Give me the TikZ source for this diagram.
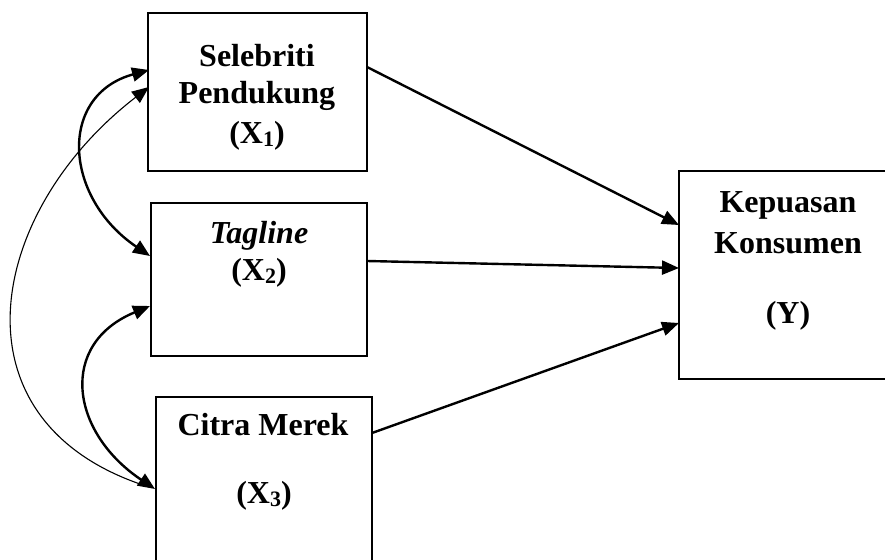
\documentclass[tikz,border=0pt]{standalone}
\usepackage{fontspec}
\setmainfont{Liberation Serif}
\usetikzlibrary{arrows.meta}
\newcommand{\sbx}[1]{\raisebox{-3pt}{\fontsize{22}{22}\selectfont #1}}
\begin{document}
\begin{tikzpicture}[x=1pt,y=-1pt,
  box/.style={draw,line width=2.4pt,rectangle,inner sep=0pt,outer sep=0pt},
  lbl/.style={anchor=base,inner sep=0pt,font=\fontsize{32}{32}\selectfont\bfseries},
  tip/.style={-{Triangle[length=17pt,width=14pt]}},
  arr/.style={line width=2.4pt,tip},
  darr/.style={line width=2.4pt,{Triangle[length=17pt,width=14pt]}-{Triangle[length=17pt,width=14pt]}},
  thinarr/.style={line width=1.1pt,{Triangle[length=17pt,width=14pt]}-}]
\useasboundingbox (0,0) rectangle (885,559);
\clip (0,0) rectangle (885,559);
% boxes
\node[box,minimum width=219pt,minimum height=158pt] (x1) at (257.5,92) {};
\node[box,minimum width=216pt,minimum height=153pt] (x2) at (259,279.5) {};
\node[box,minimum width=216pt,minimum height=178pt] (x3) at (264,486) {};
\node[box,minimum width=218pt,minimum height=208pt] (y) at (788,275) {};
% labels
\node[lbl] (t1a) at (257,67) {Selebriti};
\node[lbl] (t1b) at (257,103) {Pendukung};
\node[lbl] (t1c) at (257,143) {(X\sbx{1})};
\node[lbl] (t2a) at (259,243) {\itshape Tagline};
\node[lbl] (t2b) at (259,280) {(X\sbx{2})};
\node[lbl] (t3a) at (263,435) {Citra Merek};
\node[lbl] (t3b) at (264,503) {(X\sbx{3})};
\node[lbl] (tya) at (788,212) {Kepuasan};
\node[lbl] (tyb) at (788,253) {Konsumen};
\node[lbl] (tyc) at (788,323) {(Y)};
% connector end points
\coordinate (x1o) at (367,67);
\coordinate (x2o) at (367,261);
\coordinate (x3o) at (372,433);
\coordinate (y1) at (679,225);
\coordinate (y2) at (679,268);
\coordinate (y3) at (679,323);
\coordinate (x1a) at (149,70);
\coordinate (x1b) at (149,87);
\coordinate (x2a) at (150,256);
\coordinate (x2b) at (150,306);
\coordinate (x3a) at (155,489);
\coordinate (x3t) at (140,484);
% straight arrows
\draw[arr] (x1o) -- (y1);
\draw[arr] (x2o) -- (y2);
\draw[arr] (x3o) -- (y3);
% curved arrows
\draw[thinarr] (x1b) .. controls (-12,211) and (-52,417) .. (x3t);
\draw[darr] (x1a) .. controls (58,95) and (63,197) .. (x2a);
\draw[darr] (x2b) .. controls (58,344) and (70,432) .. (x3a);
\end{tikzpicture}
\end{document}
